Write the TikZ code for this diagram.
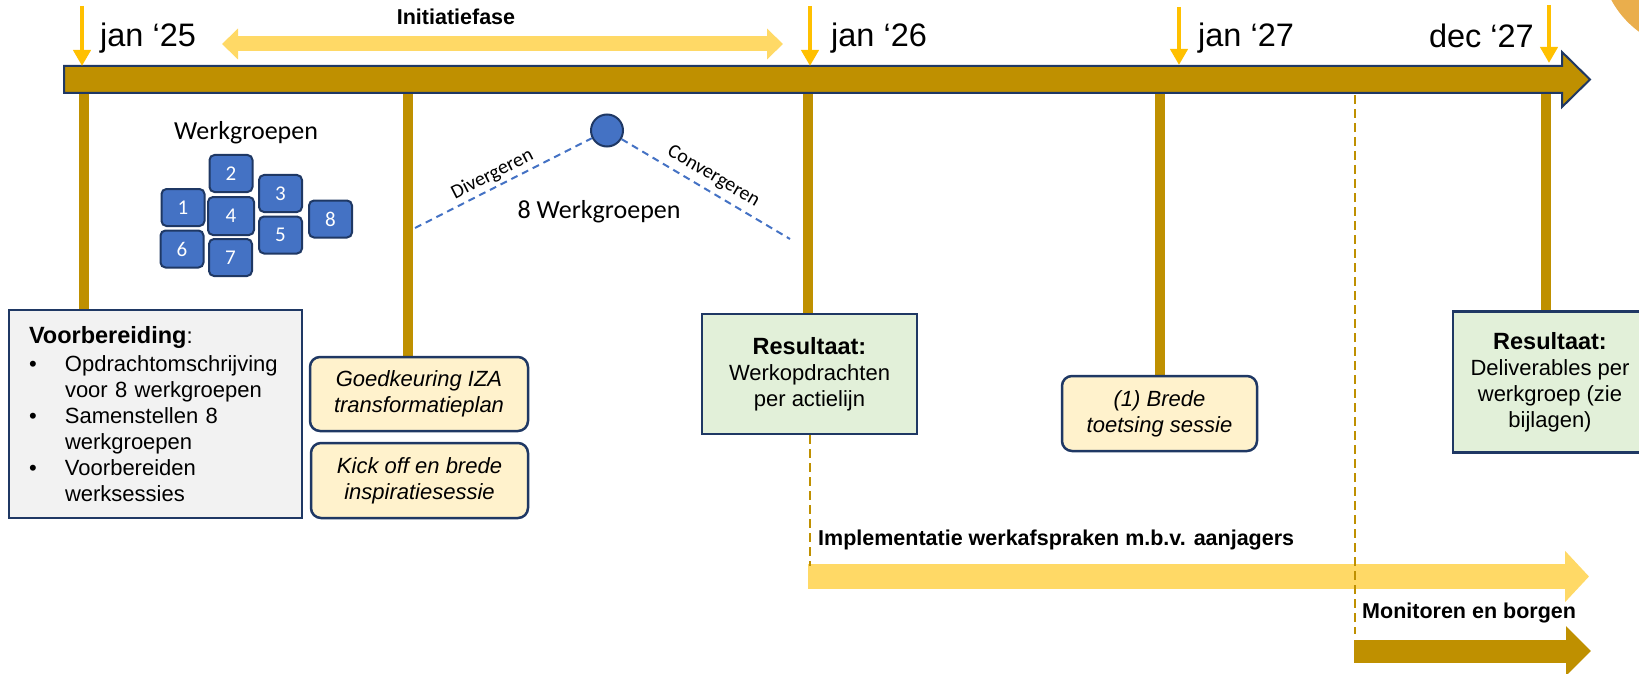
\documentclass[tikz,border=0pt]{standalone}
\usepackage{fontspec}
\setmainfont{Liberation Sans}
\newfontfamily\calibri{Carlito}
\usetikzlibrary{arrows.meta,backgrounds}
\definecolor{gold}{HTML}{BF9000}
\definecolor{amber}{HTML}{FFC000}
\definecolor{sand}{HTML}{FFD966}
\definecolor{navy}{HTML}{1F3864}
\definecolor{wgblue}{HTML}{4472C4}
\definecolor{paleyellow}{HTML}{FFF2CC}
\definecolor{palegreen}{HTML}{E2F0D9}
\definecolor{palegrey}{HTML}{F2F2F2}
\definecolor{orangeglow}{RGB}{234,174,76}
\tikzset{
	post/.style={draw=gold,line width=9.5pt},
	datemark/.style={draw=amber,line width=4.5pt,-{Triangle[length=16pt,width=17pt]}},
	datelabel/.style={anchor=base west,inner sep=0pt,font=\fontsize{32.5}{36}\selectfont},
	infobox/.style={draw=navy,line width=2.5pt,inner sep=0pt,align=center,font=\fontsize{22}{26}\selectfont},
	eventbox/.style={infobox,fill=paleyellow,rounded corners=10pt,font=\fontsize{22}{26}\selectfont\itshape},
	resultbox/.style={infobox,fill=palegreen},
	wgbox/.style={draw=navy,line width=2pt,fill=wgblue,rounded corners=5pt,text=white,inner sep=0pt,
		minimum width=43pt,minimum height=37pt,font=\calibri\fontsize{21}{24}\selectfont},
	flow/.style={draw=wgblue,line width=2pt,dash pattern=on 7pt off 5pt},
	guide/.style={draw=gold,line width=2pt,dash pattern=on 9pt off 5pt},
	phaselabel/.style={inner sep=0pt,anchor=base west,font=\bfseries\fontsize{21.5}{24}\selectfont},
	flowlabel/.style={inner sep=3pt,font=\calibri\fontsize{20}{23}\selectfont},
}
\newcommand\headtxt[1]{{\bfseries\fontsize{23.5}{26}\selectfont #1}}
\begin{document}
\begin{tikzpicture}[x=1pt,y=-1pt]
	\useasboundingbox (0,0) rectangle (1639,674);
	\clip (0,0) rectangle (1639,674);
	\fill[orangeglow] (1695,-45) circle (95pt);

	% timeline
	\draw[draw=navy,line width=2pt,fill=gold,line join=miter] (64,66) -- (1562,66) -- (1562,52) -- (1590,79.5) -- (1562,107) -- (1562,93) -- (64,93) -- cycle;
	\coordinate (a25) at (82,6);   \coordinate (t25) at (82,66);
	\coordinate (a26) at (810,6);  \coordinate (t26) at (810,66);
	\coordinate (a27) at (1179,7); \coordinate (t27) at (1179,65);
	\coordinate (ae27) at (1549,5); \coordinate (te27) at (1549,63);
	\draw[datemark] (a25) -- (t25);
	\draw[datemark] (a26) -- (t26);
	\draw[datemark] (a27) -- (t27);
	\draw[datemark] (ae27) -- (te27);
	\node (d25) at (100,47)[datelabel]{jan ‘25};
	\node (d26) at (831,47)[datelabel]{jan ‘26};
	\node (d27) at (1198,47)[datelabel]{jan ‘27};
	\node (de27) at (1534,48)[datelabel,anchor=base east]{dec ‘27};

	% initiatiefase
	\coordinate (iniL) at (222,44);
	\coordinate (iniR) at (783,44);
	\draw[sand,line width=15pt,{Triangle[length=16pt,width=30pt]}-{Triangle[length=16pt,width=30pt]}] (iniL) -- (iniR);
	\node (ini) at (456,25)[phaselabel,anchor=base]{Initiatiefase};

	% boxes under the timeline
	\node (prep) at (155.5,414)[infobox,fill=palegrey,minimum width=293,minimum height=208,text width=253,align=left]{%
		\headtxt{Voorbereiding}:\\[1.5pt]
		\makebox[36pt][l]{•}Opdrachtomschrijving\\
		\hspace*{36pt}voor 8 werkgroepen\\
		\makebox[36pt][l]{•}Samenstellen 8\\
		\hspace*{36pt}werkgroepen\\
		\makebox[36pt][l]{•}Voorbereiden\\
		\hspace*{36pt}werksessies};
	\node (approve) at (419,394)[eventbox,minimum width=218,minimum height=74]{Goedkeuring IZA\\transformatieplan};
	\node (kickoff) at (419.5,480.5)[eventbox,minimum width=217,minimum height=75]{Kick off en brede\\inspiratiesessie};
	\node (res1) at (809.5,374)[resultbox,minimum width=215,minimum height=120]{\headtxt{Resultaat:}\\Werkopdrachten\\per actielijn};
	\node (sess) at (1159.5,413.5)[eventbox,minimum width=195,minimum height=75]{(1) Brede\\toetsing sessie};
	\node (res2) at (1550,382)[resultbox,minimum width=194,minimum height=141]{\headtxt{Resultaat:}\\Deliverables per\\werkgroep (zie\\bijlagen)};

	\begin{scope}[on background layer]
		\coordinate (p1) at (84,92);
		\coordinate (p2) at (408,92);
		\coordinate (p3) at (808,92);
		\coordinate (p4) at (1160,92);
		\coordinate (p5) at (1546,94);
		\draw[post] (p1) -- (p1 |- prep.north);
		\draw[post] (p2) -- (p2 |- approve.north);
		\draw[post] (p3) -- (p3 |- res1.north);
		\draw[post] (p4) -- (p4 |- sess.north);
		\draw[post] (p5) -- (p5 |- res2.north);
	\end{scope}

	% werkgroepen
	\node (wgtitle) at (246,140)[anchor=base,inner sep=0pt,font=\calibri\fontsize{26}{30}\selectfont]{Werkgroepen};
	\node (wg2) at (231,173.5)[wgbox]{2};
	\node (wg1) at (183,207.5)[wgbox]{1};
	\node (wg4) at (231,216)[wgbox,minimum width=46pt,minimum height=38pt]{4};
	\node (wg3) at (280.5,193.5)[wgbox]{3};
	\node (wg5) at (280.5,235)[wgbox]{5};
	\node (wg8) at (330.5,219)[wgbox]{8};
	\node (wg6) at (182,249)[wgbox]{6};
	\node (wg7) at (230.5,257.5)[wgbox]{7};

	\node (hub) at (607,130.5)[circle,draw=navy,line width=2pt,fill=wgblue,minimum size=32pt,inner sep=0pt]{};
	\coordinate (divStart) at (415,228);
	\coordinate (convEnd) at (790,239);
	\draw[flow] (divStart) -- (hub) node[pos=.47,sloped,above,flowlabel]{Divergeren};
	\draw[flow] (hub) -- (convEnd) node[pos=.5,sloped,above,flowlabel,inner sep=5.5pt]{Convergeren};
	\node (wgcount) at (599,218)[anchor=base,inner sep=0pt,font=\calibri\fontsize{26}{30}\selectfont]{8 Werkgroepen};

	% implementatie en monitoring
	\coordinate (implL) at (808,576.5);
	\coordinate (implR) at (1589,576.5);
	\draw[sand,line width=25pt,-{Triangle[length=24pt,width=50pt]}] (implL) -- (implR);
	\node (impl) at (818,545)[phaselabel]{Implementatie werkafspraken m.b.v. aanjagers};
	\draw[guide] (res1.south) -- ++(0,131);
	\coordinate (g2top) at (1355,95);
	\coordinate (g2bot) at (1355,634);
	\draw[guide] (g2top) -- (g2bot);
	\coordinate (monL) at (1354,651);
	\coordinate (monR) at (1591,651);
	\draw[gold,line width=23pt,-{Triangle[length=25pt,width=48pt]}] (monL) -- (monR);
	\node (mon) at (1362,618)[phaselabel]{Monitoren en borgen};
\end{tikzpicture}
\end{document}
